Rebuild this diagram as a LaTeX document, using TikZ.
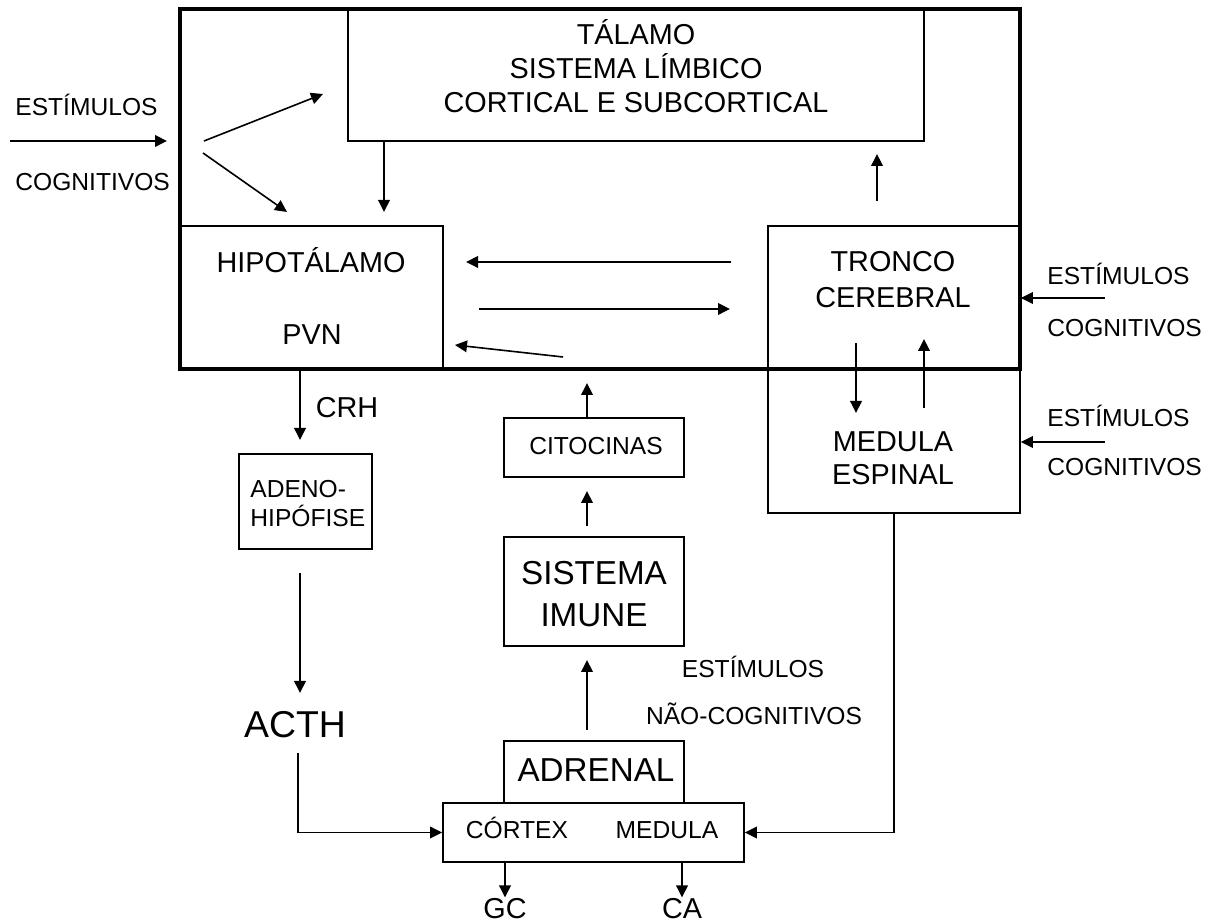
\documentclass[tikz,border=0pt]{standalone}
\usepackage{fontspec}
\setmainfont{Liberation Sans}
\usetikzlibrary{arrows.meta}
\tikzset{
    caixa/.style={draw, line width=0.8pt, inner sep=0pt},
    texto/.style={font=\fontsize{14.4}{17}\selectfont, align=center, anchor=base, inner sep=0pt},
    fino/.style={font=\fontsize{12.3}{14.5}\selectfont, anchor=base, inner sep=0pt},
    grande/.style={font=\fontsize{16.6}{21}\selectfont, align=center, anchor=base, inner sep=0pt},
    seta/.style={line width=0.8pt, -{Triangle[length=6pt,width=5.8pt]}},
}
\begin{document}
\begin{tikzpicture}[x=0.5pt,y=-0.5pt]
    \useasboundingbox (0,0) rectangle (1216,924);
    % caixas
    \node[caixa, minimum width=288pt, minimum height=66pt] (tal) at (636,75) {};
    \node[caixa, minimum width=131.5pt, minimum height=71.5pt] (hip) at (311.5,297.5) {};
    \node[caixa, minimum width=126pt, minimum height=71.5pt] (tro) at (894,297.5) {};
    \node[caixa, minimum width=126pt, minimum height=72pt] (med) at (894,441) {};
    \node[caixa, minimum width=66.5pt, minimum height=47.5pt] (ade) at (305.5,501.5) {};
    \node[caixa, minimum width=90pt, minimum height=29.5pt] (cit) at (594,447.5) {};
    \node[caixa, minimum width=90pt, minimum height=54.5pt] (imu) at (594,591.5) {};
    \node[caixa, minimum width=90pt, minimum height=31pt] (adr) at (594,772) {};
    \node[caixa, minimum width=150.5pt, minimum height=29.5pt] (cor) at (593.5,832.5) {};
    \node[draw, line width=1.6pt, inner sep=0pt, minimum width=420pt, minimum height=180pt] (snc) at (600,189) {};
    % textos (base = linha de baixo)
    \node[texto] (talT) at (636,113) {TÁLAMO\\SISTEMA LÍMBICO\\CORTICAL E SUBCORTICAL};
    \node[texto] (hipT) at (311,273) {HIPOTÁLAMO};
    \node[texto] (pvn) at (312,345) {PVN};
    \node[texto, font=\fontsize{14.4}{18}\selectfont] (troT) at (893,308) {TRONCO\\CEREBRAL};
    \node[texto, font=\fontsize{14.4}{16.5}\selectfont] (medT) at (893,485) {MEDULA\\ESPINAL};
    \node[texto] (crh) at (347,418) {CRH};
    \node[texto] (gc) at (505,918) {GC};
    \node[texto] (ca) at (682,918) {CA};
    \node[fino, align=left, anchor=base west] (adeT) at (250,527) {ADENO-\\HIPÓFISE};
    \node[fino] (citT) at (596,455) {CITOCINAS};
    \node[fino] (corT) at (517,838) {CÓRTEX};
    \node[fino] (medA) at (667,838) {MEDULA};
    \node[grande] (imuT) at (594,627) {SISTEMA\\IMUNE};
    \node[grande] (adrT) at (596,782) {ADRENAL};
    \node[texto, font=\fontsize{18.7}{22}\selectfont] (acth) at (295,738) {ACTH};
    \node[fino, anchor=base west] (est1) at (15,116) {ESTÍMULOS};
    \node[fino, anchor=base west] (cog1) at (15,191) {COGNITIVOS};
    \node[fino, anchor=base west] (est2) at (1047,285) {ESTÍMULOS};
    \node[fino, anchor=base west] (cog2) at (1047,337) {COGNITIVOS};
    \node[fino, anchor=base west] (est3) at (1047,427) {ESTÍMULOS};
    \node[fino, anchor=base west] (cog3) at (1047,476) {COGNITIVOS};
    \node[fino] (est4) at (753,678) {ESTÍMULOS};
    \node[fino] (nao) at (754,725) {NÃO-COGNITIVOS};
    % pontas livres
    \coordinate (e0) at (10,141);
    \coordinate (e1) at (167,141);
    \coordinate (f0) at (204,141);
    \coordinate (f1) at (323,94);
    \coordinate (g0) at (203,153);
    \coordinate (g1) at (287,212);
    \coordinate (t1) at (384,212);
    \coordinate (u0) at (877,201);
    \coordinate (u1) at (877,154);
    \coordinate (h0) at (731,262);
    \coordinate (h1) at (466,262);
    \coordinate (h2) at (479,309);
    \coordinate (h3) at (730,309);
    \coordinate (h4) at (563,357);
    \coordinate (h5) at (455,345);
    \coordinate (d1) at (1105,298);
    \coordinate (d2) at (1105,442);
    \coordinate (m0) at (856,343);
    \coordinate (m1) at (856,413);
    \coordinate (m2) at (924,408);
    \coordinate (m3) at (924,339);
    \coordinate (c1) at (300,440);
    \coordinate (a0) at (300,573);
    \coordinate (a1) at (300,693);
    \coordinate (a2) at (298,753);
    \coordinate (i0) at (587,730);
    \coordinate (i1) at (587,660);
    \coordinate (i2) at (587,526);
    \coordinate (i3) at (587,491);
    \coordinate (k1) at (587,383);
    % setas
    \draw[seta] (e0) -- (e1);
    \draw[seta] (f0) -- (f1);
    \draw[seta] (g0) -- (g1);
    \draw[seta] (tal.south -| t1) -- (t1);
    \draw[seta] (u0) -- (u1);
    \draw[seta] (h0) -- (h1);
    \draw[seta] (h2) -- (h3);
    \draw[seta] (h4) -- (h5);
    \draw[seta] (d1) -- (d1 -| tro.east);
    \draw[seta] (d2) -- (d2 -| med.east);
    \draw[seta] (m0) -- (m1);
    \draw[seta] (m2) -- (m3);
    \draw[seta] (hip.south -| c1) -- (c1);
    \draw[seta] (a0) -- (a1);
    \draw[seta] (a2) |- (cor.west);
    \draw[seta] (med.south) |- (cor.east);
    \draw[seta] (cor.south -| gc) -- (gc.north);
    \draw[seta] (cor.south -| ca) -- (ca.north);
    \draw[seta] (i0) -- (i1);
    \draw[seta] (i2) -- (i3);
    \draw[seta] (cit.north -| k1) -- (k1);
\end{tikzpicture}
\end{document}
